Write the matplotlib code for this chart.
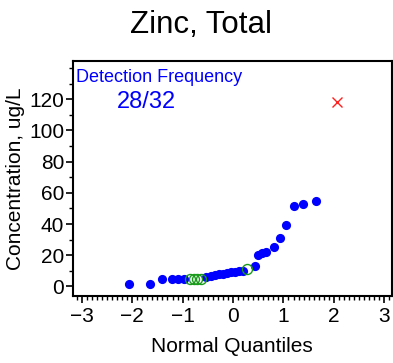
import matplotlib.pyplot as plt
from matplotlib.ticker import MultipleLocator

plt.rcParams['font.family'] = ['Liberation Sans', 'DejaVu Sans']

# detected results (normal quantile, concentration)
det_q = [-2.07, -1.64, -1.40, -1.21, -1.09, -0.97, -0.53, -0.44, -0.36, -0.28,
         -0.20, -0.12, -0.04, 0.04, 0.12, 0.20, 0.44, 0.50, 0.57, 0.66,
         0.81, 0.94, 1.05, 1.21, 1.39, 1.64]
det_c = [1.9, 1.7, 4.5, 4.5, 4.6, 4.7, 6.2, 6.8, 7.4, 7.9,
         8.3, 8.6, 9.0, 9.5, 9.8, 10.1, 13.0, 20.4, 21.5, 22.2,
         25.4, 31.0, 39.6, 51.8, 53.0, 54.7]
# non-detects
nd_q = [-0.86, -0.78, -0.71, -0.64, 0.27]
nd_c = [5.0, 5.0, 5.0, 5.0, 11.5]
# outlier
out_q = [2.07]
out_c = [118.5]

fig = plt.figure(figsize=(3.93, 3.63), dpi=100)
ax = fig.add_axes([0.185, 0.185, 0.812, 0.647])

ax.plot(det_q, det_c, 'o', color='#0000ff', markersize=6.6, markeredgewidth=0, zorder=3)
ax.plot(nd_q, nd_c, 'o', markerfacecolor='none', markeredgecolor='#1a9a1a',
        markersize=7.2, markeredgewidth=1.0, zorder=4)
ax.plot(out_q, out_c, 'x', color='#ff2020', markersize=7, markeredgewidth=1.0, zorder=4)

ax.set_xlim(-3.18, 3.15)
ax.set_ylim(-6, 144.5)
ax.xaxis.set_major_locator(MultipleLocator(1))
ax.xaxis.set_minor_locator(MultipleLocator(0.1))
ax.yaxis.set_minor_locator(MultipleLocator(10))
ax.set_yticks(range(0, 121, 20))
ax.tick_params(axis='both', which='major', direction='out', length=5, width=1.2,
               labelsize=15)
ax.tick_params(axis='x', which='major', pad=3)
ax.tick_params(axis='y', which='major', pad=1)
ax.tick_params(axis='both', which='minor', direction='out', length=3, width=1.0)
for s in ax.spines.values():
    s.set_linewidth(1.5)

ax.set_xlabel('Normal Quantiles', fontsize=15, labelpad=8)
ax.set_ylabel('Concentration, ug/L', fontsize=15, labelpad=3)
fig.text(0.511, 1 - 33 / 363, 'Zinc, Total', fontsize=22.5, ha='center', va='baseline')

ax.text(0.01, 0.965, 'Detection Frequency', transform=ax.transAxes, color='#0000ff',
        fontsize=13, va='top', ha='left')
ax.text(0.232, 0.872, '28/32', transform=ax.transAxes, color='#0000ff',
        fontsize=17, va='top', ha='center')

fig.savefig('out.png', dpi=100)
